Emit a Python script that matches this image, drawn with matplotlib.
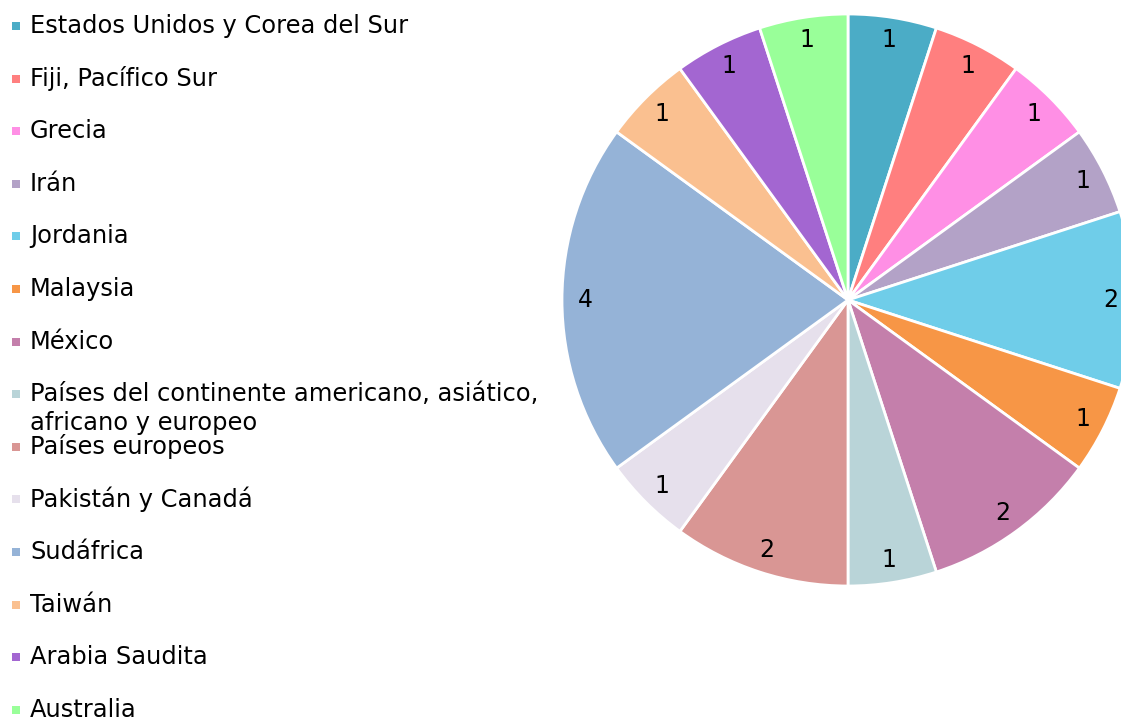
import matplotlib.pyplot as plt

# Datos del gráfico
paises = [
    "Estados Unidos y Corea del Sur",
    "Fiji, Pacífico Sur",
    "Grecia",
    "Irán",
    "Jordania",
    "Malaysia",
    "México",
    "Países del continente americano, asiático,\nafricano y europeo",
    "Países europeos",
    "Pakistán y Canadá",
    "Sudáfrica",
    "Taiwán",
    "Arabia Saudita",
    "Australia",
]
valores = [1, 1, 1, 1, 2, 1, 2, 1, 2, 1, 4, 1, 1, 1]
colores = [
    "#4bacc6", "#ff7f7f", "#ff8fe5", "#b3a2c7", "#6fcde9", "#f79646", "#c47fab",
    "#b9d4d8", "#d99694", "#e6e0ec", "#95b3d7", "#fac090", "#a366d1", "#99ff99",
]

W, H = 1121, 720
plt.rcParams['font.family'] = ['DejaVu Sans']
fig = plt.figure(figsize=(W / 100, H / 100), dpi=100)

# Pastel: centro (848, 300) px, radio 286 px
cx, cy, r = 848, 300, 286
ax = fig.add_axes([(cx - r) / W, (H - cy - r) / H, 2 * r / W, 2 * r / H])
wedges, textos = ax.pie(
    valores,
    colors=colores,
    startangle=90,
    counterclock=False,
    labels=[str(v) for v in valores],
    labeldistance=0.92,
    wedgeprops={'edgecolor': 'white', 'linewidth': 2},
    textprops={'fontsize': 17, 'color': 'black'},
)
for t in textos:
    t.set_horizontalalignment('center')
    t.set_verticalalignment('center')
ax.set_aspect('equal')
ax.set_xlim(-1, 1)
ax.set_ylim(-1, 1)

# Leyenda dibujada a mano
y0, paso, interlinea = 26, 52.6, 29
for i, (nombre, col) in enumerate(zip(paises, colores)):
    y = y0 + i * paso
    fig.patches.append(plt.Rectangle((12 / W, 1 - (y + 4) / H), 8 / W, 8 / H,
                                     transform=fig.transFigure, facecolor=col,
                                     edgecolor='none'))
    for j, linea in enumerate(nombre.split('\n')):
        fig.text(30 / W, 1 - (y + j * interlinea) / H, linea, fontsize=17.4,
                 va='center', ha='left')

fig.savefig("out.png", dpi=100)
